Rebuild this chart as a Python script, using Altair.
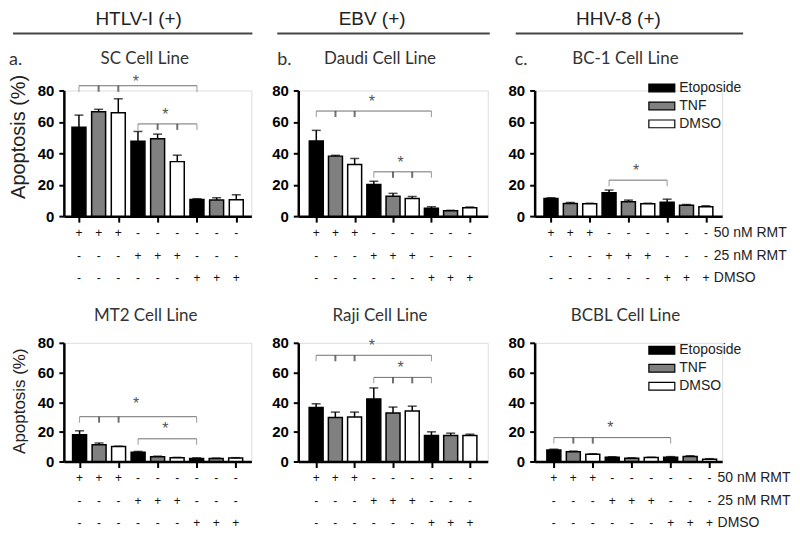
import altair as alt
import pandas as pd

AX_FONT = "Liberation Sans"
TT_FONT = "Lato"

IDX = [1, 2, 3, 4, 5, 6, 7, 8, 9]
TREAT = ["Etoposide", "TNF", "DMSO", "Etoposide", "TNF", "DMSO", "Etoposide", "TNF", "DMSO"]
TREAT_ORDER = ["Etoposide", "TNF", "DMSO"]
FILLS = ["#000000", "#808080", "#ffffff"]
COND = ["50 nM RMT", "25 nM RMT", "DMSO"]
SIGN_50 = ["+", "+", "+", "-", "-", "-", "-", "-", "-"]
SIGN_25 = ["-", "-", "-", "+", "+", "+", "-", "-", "-"]
SIGN_DM = ["-", "-", "-", "-", "-", "-", "+", "+", "+"]
Y_TICKS = [0, 20, 40, 60, 80]

# values (% apoptosis) and upper error
SC_MEAN = [56.6, 66.4, 65.8, 47.6, 49.3, 34.7, 10.6, 10.2, 10.4]
SC_ERR = [7.7, 1.6, 8.9, 6.3, 2.9, 4.1, 0.5, 1.5, 3.2]
DAUDI_MEAN = [47.8, 38.2, 32.9, 20.2, 12.7, 11.2, 5.0, 3.4, 5.4]
DAUDI_ERR = [6.8, 0.5, 3.8, 2.0, 1.8, 1.3, 1.0, 0.3, 0.4]
BC1_MEAN = [11.2, 8.1, 7.9, 14.9, 9.1, 7.9, 8.9, 7.0, 5.9]
BC1_ERR = [0.5, 0.6, 0.3, 1.7, 1.1, 0.3, 1.9, 0.4, 0.7]
MT2_MEAN = [18.0, 11.3, 10.1, 6.3, 3.2, 2.5, 2.0, 2.0, 2.3]
MT2_ERR = [2.7, 1.1, 0.2, 0.5, 0.4, 0.3, 0.5, 0.3, 0.3]
RAJI_MEAN = [36.4, 29.6, 30.0, 42.2, 32.7, 34.0, 17.6, 17.6, 17.6]
RAJI_ERR = [2.5, 3.7, 3.3, 7.4, 4.0, 3.3, 2.4, 1.5, 0.8]
BCBL_MEAN = [7.8, 6.5, 4.9, 2.9, 2.2, 2.7, 2.9, 3.4, 1.6]
BCBL_ERR = [0.5, 0.5, 0.3, 0.3, 0.3, 0.2, 0.4, 0.5, 0.3]

# significance brackets: (from bar, to bar, level, star level, tick bars)
BR_SC = [(1, 7, 83.0, 88.0, [1, 2, 3, 7]), (4, 7, 58.7, 67.0, [4, 5, 6, 7])]
BR_DAUDI = [(1, 7, 66.9, 75.4, [1, 2, 3, 7]), (4, 7, 28.2, 36.5, [4, 5, 6, 7])]
BR_BC1 = [(4, 7, 22.9, 31.4, [4, 7])]
BR_MT2 = [(1, 7, 30.2, 41.2, [1, 2, 3, 7]), (4, 7, 15.3, 24.3, [4, 7])]
BR_RAJI = [(1, 7, 71.6, 80.4, [1, 2, 3, 7]), (4, 7, 56.7, 65.6, [4, 5, 6, 7])]
BR_BCBL = [(1, 7, 16.1, 25.5, [1, 2, 3, 7])]


def const_text(text, x, y, size, font, align="center", baseline="middle", color="#333"):
    return alt.Chart(pd.DataFrame({"t": [text]})).mark_text(
        font=font, fontSize=size, align=align, baseline=baseline, color=color
    ).encode(x=alt.value(x), y=alt.value(y), text="t:N")


def const_rule(x1, x2, y):
    return alt.Chart(pd.DataFrame({"t": [0]})).mark_rule(color="#444", strokeWidth=2).encode(
        x=alt.value(x1), x2=alt.value(x2), y=alt.value(y)
    )


def panel(mean, err, brackets, xdom, w, h, title, title_x, title_y,
          letter=None, letter_x=None, header=None, header_x=None, line_x=None,
          ytitle=None, ytitle_size=18, ytitle_y=None, legend_y=None, row_labels=False):
    df = pd.DataFrame({"idx": IDX, "treat": TREAT, "mean": mean,
                       "top": [m + e for m, e in zip(mean, err)]})
    xs = alt.Scale(domain=xdom, nice=False, zero=False)
    ys = alt.Scale(domain=[0, 80], nice=False)
    xaxis = alt.Axis(values=IDX, labels=False, title=None, grid=False, ticks=True,
                     tickSize=6, tickWidth=2, tickColor="black",
                     domainColor="black", domainWidth=2.5)
    yargs = dict(values=Y_TICKS, grid=False, tickSize=5, tickWidth=2, tickColor="black",
                 domainColor="black", domainWidth=2.5, labelFont=AX_FONT, labelFontSize=15,
                 labelFontWeight="bold", labelColor="black", labelPadding=5)
    if ytitle:
        yargs.update(title=ytitle, titleFont=AX_FONT, titleFontSize=ytitle_size,
                     titleFontWeight="normal", titleColor="#222", titleAngle=270,
                     titleAlign="center", titleBaseline="bottom", titleX=-35, titleY=ytitle_y)
    else:
        yargs.update(title=None)
    yaxis = alt.Axis(**yargs)
    fscale = alt.Scale(domain=TREAT_ORDER, range=FILLS)
    if legend_y is not None:
        leg = alt.Legend(orient="none", legendX=120, legendY=legend_y, title=None,
                         symbolType="M-2,-0.6H2V0.6H-2Z", symbolSize=169,
                         symbolStrokeColor="black", symbolStrokeWidth=1.2,
                         labelFont=AX_FONT, labelFontSize=14, labelColor="#222",
                         labelOffset=10, rowPadding=3)
        fill = alt.Fill("treat:N", scale=fscale, legend=leg)
    else:
        fill = alt.Fill("treat:N", scale=fscale, legend=None)

    base = alt.Chart(df)
    bars = base.mark_bar(size=14, stroke="black", strokeWidth=1.5, orient="vertical").encode(
        x=alt.X("idx:Q", scale=xs, axis=xaxis),
        y=alt.Y("mean:Q", scale=ys, axis=yaxis),
        fill=fill,
    )
    errs = base.mark_rule(color="black", strokeWidth=1.5).encode(
        x=alt.X("idx:Q", scale=xs),
        y=alt.Y("mean:Q", scale=ys, axis=None), y2="top:Q")
    caps = base.mark_tick(color="black", thickness=1.5, size=9, orient="horizontal").encode(
        x=alt.X("idx:Q", scale=xs),
        y=alt.Y("top:Q", scale=ys, axis=None))

    bdf = pd.DataFrame([{"x1": s, "x2": e, "lvl": l, "xm": (s + e) / 2, "star": st}
                        for s, e, l, st, _ in brackets])
    tdf = pd.DataFrame([{"x": t, "lvl": l, "end": t in (s, e)}
                        for s, e, l, st, ts in brackets for t in ts])
    hline = alt.Chart(bdf).mark_rule(color="#707070", strokeWidth=1).encode(
        x=alt.X("x1:Q", scale=xs), x2="x2:Q",
        y=alt.Y("lvl:Q", scale=ys, axis=None))
    end_ticks = alt.Chart(tdf).transform_filter("datum.end").mark_tick(
        color="#707070", thickness=1, size=6, orient="vertical", yOffset=3).encode(
        x=alt.X("x:Q", scale=xs), y=alt.Y("lvl:Q", scale=ys, axis=None))
    mid_ticks = alt.Chart(tdf).transform_filter("!datum.end").mark_tick(
        color="#333", thickness=2, size=6, orient="vertical", yOffset=3).encode(
        x=alt.X("x:Q", scale=xs), y=alt.Y("lvl:Q", scale=ys, axis=None))
    stars = alt.Chart(bdf).mark_text(text="*", font=AX_FONT, fontSize=16, color="#555",
                                     dx=-2, dy=4).encode(
        x=alt.X("xm:Q", scale=xs), y=alt.Y("star:Q", scale=ys, axis=None))

    sdf = pd.DataFrame([{"idx": i, "cond": c, "s": s}
                        for c, arr in zip(COND, [SIGN_50, SIGN_25, SIGN_DM])
                        for i, s in zip(IDX, arr)])
    ysign = alt.Y("cond:N", scale=alt.Scale(type="point", domain=COND,
                                            range=[h + 17, h + 62], padding=0), axis=None)
    signs = alt.Chart(sdf).mark_text(font=AX_FONT, fontSize=12, color="#111",
                                     baseline="middle").encode(
        x=alt.X("idx:Q", scale=xs), y=ysign, text="s:N")

    layers = [bars, errs, caps, hline, end_ticks, mid_ticks, stars, signs]
    if row_labels:
        ldf = pd.DataFrame({"idx": [9, 9, 9], "cond": COND})
        layers.append(alt.Chart(ldf).mark_text(
            font=AX_FONT, fontSize=14, color="#222", align="left", baseline="middle", dx=8
        ).encode(x=alt.X("idx:Q", scale=xs), y=ysign, text="cond:N"))

    layers.append(const_text(title, title_x, title_y, 17, TT_FONT))
    if letter:
        layers.append(const_text(letter, letter_x, title_y + 1, 18, TT_FONT, align="left"))
    if header:
        layers.append(const_text(header, header_x, -81, 19, AX_FONT, baseline="top",
                                 color="#222"))
        layers.append(const_rule(line_x[0], line_x[1], -57))

    return alt.layer(*layers).resolve_scale(y="independent").properties(width=w, height=h)


TOP_H = 126
BOT_H = 119

pa = panel(SC_MEAN, SC_ERR, BR_SC, [0.486, 9.514], 188, TOP_H, "SC Cell Line", 81, -32,
           letter="a.", letter_x=-55, header="HTLV-I (+)", header_x=75, line_x=(-51, 189),
           ytitle="Apoptosis (%)", ytitle_size=20, ytitle_y=46)
pb = panel(DAUDI_MEAN, DAUDI_ERR, BR_DAUDI, [0.32, 9.68], 190, TOP_H, "Daudi Cell Line", 82, -32,
           letter="b.", letter_x=-21, header="EBV (+)", header_x=74, line_x=(-21, 192))
pc = panel(BC1_MEAN, BC1_ERR, BR_BC1, [0.415, 9.585], 188, TOP_H, "BC-1 Cell Line", 91, -32,
           letter="c.", letter_x=-20, header="HHV-8 (+)", header_x=84, line_x=(-19, 209),
           legend_y=-10, row_labels=True)
pd_ = panel(MT2_MEAN, MT2_ERR, BR_MT2, [0.45, 9.55], 188, BOT_H, "MT2 Cell Line", 82, -27,
            ytitle="Apoptosis (%)", ytitle_size=17, ytitle_y=58)
pe = panel(RAJI_MEAN, RAJI_ERR, BR_RAJI, [0.33, 9.67], 190, BOT_H, "Raji Cell Line", 82, -27)
pf = panel(BCBL_MEAN, BCBL_ERR, BR_BCBL, [0.27, 9.39], 188, BOT_H, "BCBL Cell Line", 91, -27,
           legend_y=0, row_labels=True)

chart = alt.concat(
    pa, pb, pc, pd_, pe, pf, columns=3,
    spacing=alt.RowColnumber(row=127, column=47), bounds="flush", align="each",
).resolve_scale(fill="independent").properties(padding=0).configure_view(
    strokeWidth=0
).configure(background="white")

chart.save("out.html", embed_options={"renderer": "svg", "actions": False})
